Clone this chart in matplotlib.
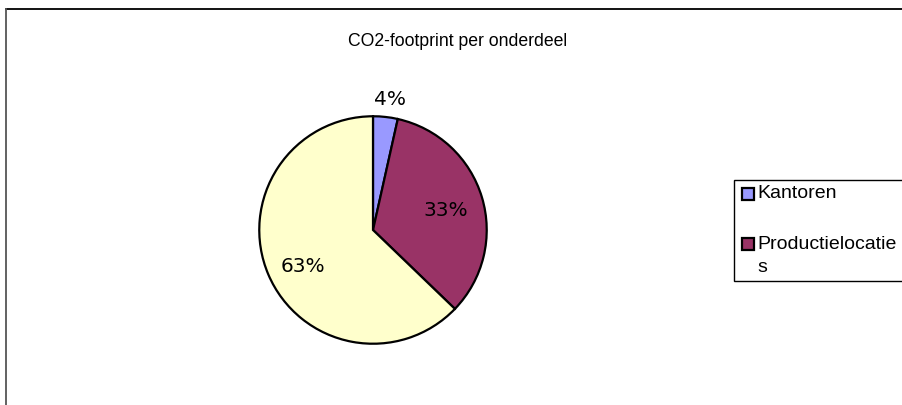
import matplotlib
matplotlib.use("Agg")
import matplotlib.pyplot as plt
from matplotlib.patches import Rectangle
from matplotlib.lines import Line2D

# Chart data
TITLE = "CO2-footprint per onderdeel"
categories = ["Kantoren", "Productielocaties", "Overig"]
values = [3.5, 33.7, 62.8]
pct_labels = ["4%", "33%", "63%"]
colors = ["#9999FF", "#993366", "#FFFFCC"]
legend_lines = [["Kantoren"], ["Productielocatie", "s"]]

W, H = 903, 405
DPI = 100
fig = plt.figure(figsize=(W / DPI, H / DPI), dpi=DPI)
fig.patch.set_facecolor("white")

def fx(px):
    return px / W

def fy(py):
    return 1 - py / H

# chart area border (top and left visible, rest cut off)
fig.add_artist(Line2D([fx(6), fx(903)], [fy(9), fy(9)], color="black", lw=1.3))
fig.add_artist(Line2D([fx(6), fx(6)], [fy(9), fy(405)], color="#555555", lw=1.3))

fig.text(fx(458), fy(41), TITLE, ha="center", va="center",
         fontsize=12.7, family="Liberation Sans")

# pie axes: centre (373, 230), radius 116 px
cx, cy, r = 373, 230, 116
ax = fig.add_axes([fx(cx - r), 1 - (cy + r) / H, 2 * r / W, 2 * r / H])
wedges, texts, autotexts = ax.pie(
    values, colors=colors, startangle=90, counterclock=False, radius=1,
    autopct="%1.0f%%", pctdistance=0.67,
    wedgeprops=dict(edgecolor="black", linewidth=1.6),
    textprops=dict(fontsize=14.5, family="DejaVu Sans"))
for t, lab in zip(autotexts, pct_labels):
    t.set_text(lab)
# small slice label sits outside the pie
autotexts[0].set_position((17 / r, 133 / r))
autotexts[1].set_position((74 / r, 20 / r))
autotexts[2].set_position((-71 / r, -37 / r))
ax.set_xlim(-1.02, 1.02)
ax.set_ylim(-1.02, 1.02)
ax.set_aspect("equal")
ax.axis("off")

# legend box (extends past the right edge)
fig.add_artist(Rectangle((fx(734), fy(281)), fx(200), fy(180) - fy(281),
                         transform=fig.transFigure, facecolor="white",
                         edgecolor="black", lw=1.0))
sq = 12
entry_y = [194, 244]
for i, lines in enumerate(legend_lines):
    y0 = entry_y[i]
    fig.add_artist(Rectangle((fx(742), fy(y0 + sq / 2)), sq / W, sq / H,
                             transform=fig.transFigure, facecolor=colors[i],
                             edgecolor="black", lw=1.6))
    for j, line in enumerate(lines):
        fig.text(fx(757), fy(y0 + j * 23), line, ha="left", va="center",
                 fontsize=14, family="Liberation Sans")

fig.savefig("out.png", dpi=DPI)
